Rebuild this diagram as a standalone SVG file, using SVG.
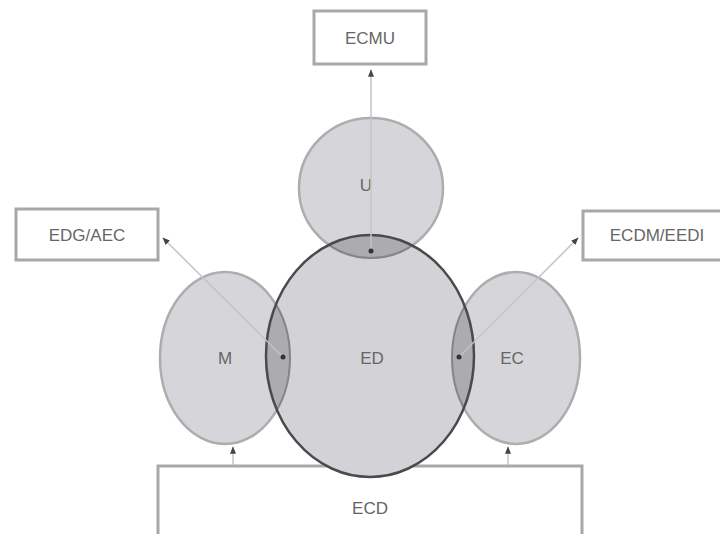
<svg xmlns="http://www.w3.org/2000/svg" width="720" height="534" viewBox="0 0 720 534">
<style>
.box{fill:#fff;stroke:#a8a8a8;stroke-width:3}
.ell{fill:#d6d6da;stroke:#adadad;stroke-width:2.5}
.lens{fill:#ababb0}
.lbl{font-family:"Liberation Sans",Arial,sans-serif;font-size:17px;fill:#666;text-anchor:middle}
.ln{stroke:#c4c4c4;stroke-width:1.5;fill:none}
.dot{fill:#333}
</style>
<defs>
<clipPath id="cED"><ellipse cx="370" cy="356" rx="104" ry="121"/></clipPath>
<marker id="ah" viewBox="0 0 10 10" refX="9" refY="5" markerWidth="5" markerHeight="5" orient="auto"><path d="M0,1 L10,5 L0,9 z" fill="#444"/></marker>
</defs>
<g id="ECD"><rect class="box" x="158" y="466" width="424" height="80"/><text class="lbl" x="370" y="514">ECD</text></g>
<g id="U"><ellipse class="ell" cx="371" cy="188" rx="72" ry="70"/><text class="lbl" x="366" y="191">U</text></g>
<g id="M"><ellipse class="ell" cx="225" cy="358" rx="65" ry="86"/><text class="lbl" x="225" y="364">M</text></g>
<g id="EC"><ellipse class="ell" cx="516" cy="358" rx="64" ry="86"/><text class="lbl" x="512" y="364">EC</text></g>
<g id="ED"><ellipse cx="370" cy="356" rx="104" ry="121" fill="#d3d3d7"/>
<g clip-path="url(#cED)"><ellipse class="lens" cx="371" cy="188" rx="72" ry="70"/><ellipse class="lens" cx="225" cy="358" rx="65" ry="86"/><ellipse class="lens" cx="516" cy="358" rx="64" ry="86"/>
<ellipse cx="371" cy="188" rx="72" ry="70" fill="none" stroke="#858585" stroke-width="2"/><ellipse cx="225" cy="358" rx="65" ry="86" fill="none" stroke="#858585" stroke-width="2"/><ellipse cx="516" cy="358" rx="64" ry="86" fill="none" stroke="#858585" stroke-width="2"/></g>
<ellipse cx="370" cy="356" rx="104" ry="121" fill="none" stroke="#4a4a4a" stroke-width="2.5"/>
<text class="lbl" x="372" y="364">ED</text></g>
<g id="ECMU"><rect class="box" x="314" y="11" width="112" height="53"/><text class="lbl" x="370" y="44">ECMU</text></g>
<g id="EDGAEC"><rect class="box" x="16" y="209" width="142" height="51"/><text class="lbl" x="87" y="241">EDG/AEC</text></g>
<g id="ECDMEED"><rect class="box" x="583" y="211" width="150" height="49"/><text class="lbl" x="657" y="241">ECDM/EEDI</text></g>
<g id="connectors">
<line class="ln" x1="371" y1="251" x2="371" y2="70" marker-end="url(#ah)"/>
<line class="ln" x1="283" y1="357" x2="163" y2="238" marker-end="url(#ah)"/>
<line class="ln" x1="459" y1="357" x2="578" y2="238" marker-end="url(#ah)"/>
<line class="ln" x1="233" y1="465" x2="233" y2="447" marker-end="url(#ah)"/>
<line class="ln" x1="508" y1="465" x2="508" y2="447" marker-end="url(#ah)"/>
<circle class="dot" cx="371" cy="251" r="2.5"/>
<circle class="dot" cx="283" cy="357" r="2.5"/>
<circle class="dot" cx="459" cy="357" r="2.5"/>
</g>
</svg>
